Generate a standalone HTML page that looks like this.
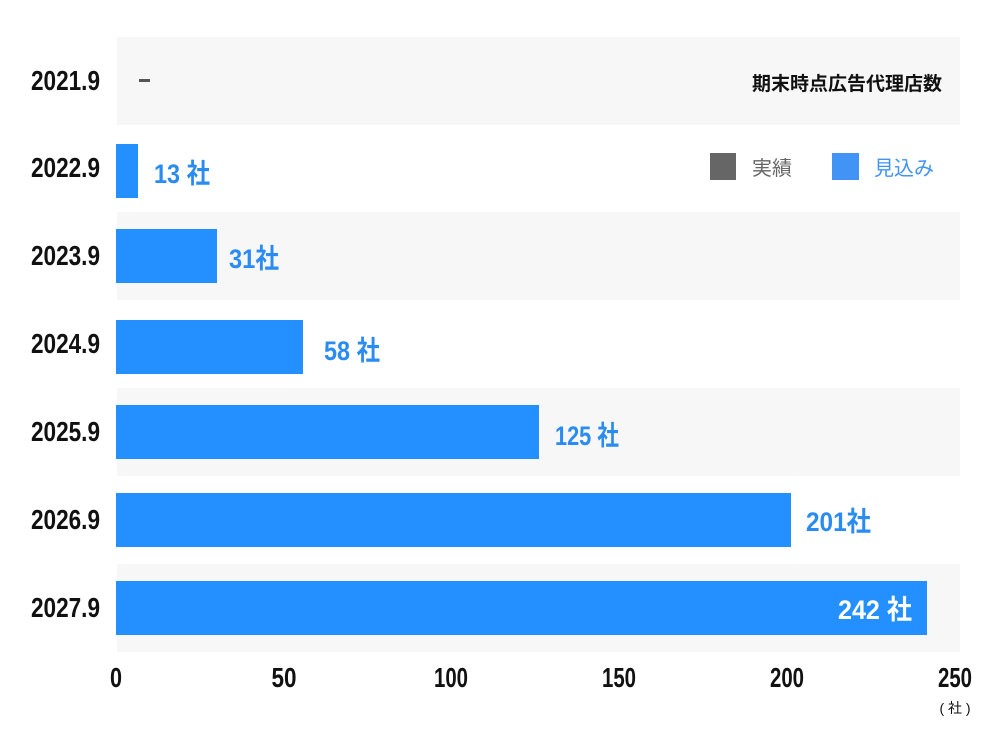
<!DOCTYPE html>
<html><head><meta charset="utf-8"><style>
html,body{margin:0;padding:0;background:#fff;}
svg{display:block;}
.y{font-family:"Liberation Sans Narrow","Liberation Sans",sans-serif;font-weight:bold;font-size:28px;fill:#111;}
.v{font-family:"Liberation Sans Narrow","Liberation Sans","Noto Sans CJK JP",sans-serif;font-weight:bold;font-size:27px;fill:#2a8cf2;}
.x{font-family:"Liberation Sans Narrow","Liberation Sans",sans-serif;font-weight:bold;font-size:28px;fill:#111;}
.j{font-family:"Liberation Sans","Noto Sans CJK JP",sans-serif;}
</style></head><body>
<svg width="1000" height="739" viewBox="0 0 1000 739" xmlns="http://www.w3.org/2000/svg">
<rect x="117" y="37" width="843" height="88" fill="#f7f7f7"/>
<rect x="117" y="212" width="843" height="88" fill="#f7f7f7"/>
<rect x="117" y="388" width="843" height="88" fill="#f7f7f7"/>
<rect x="117" y="564" width="843" height="88" fill="#f7f7f7"/>
<g fill="#2490ff">
<rect x="116" y="144" width="22" height="54"/>
<rect x="116" y="229" width="101" height="54"/>
<rect x="116" y="320" width="187" height="54"/>
<rect x="116" y="405" width="423" height="54"/>
<rect x="116" y="493" width="675" height="54"/>
<rect x="116" y="581" width="811" height="54"/>
</g>
<g class="y" text-anchor="end">
<text x="100" y="90" textLength="69" lengthAdjust="spacingAndGlyphs">2021.9</text>
<text x="100" y="177" textLength="69" lengthAdjust="spacingAndGlyphs">2022.9</text>
<text x="100" y="265" textLength="69" lengthAdjust="spacingAndGlyphs">2023.9</text>
<text x="100" y="353" textLength="69" lengthAdjust="spacingAndGlyphs">2024.9</text>
<text x="100" y="441" textLength="69" lengthAdjust="spacingAndGlyphs">2025.9</text>
<text x="100" y="529" textLength="69" lengthAdjust="spacingAndGlyphs">2026.9</text>
<text x="100" y="617" textLength="69" lengthAdjust="spacingAndGlyphs">2027.9</text>
</g>
<rect x="139" y="79" width="11" height="3" fill="#555"/>
<g class="v">
<text x="154" y="183" textLength="56" lengthAdjust="spacingAndGlyphs">13 社</text>
<text x="229" y="268" textLength="50" lengthAdjust="spacingAndGlyphs">31社</text>
<text x="324" y="360" textLength="56" lengthAdjust="spacingAndGlyphs">58 社</text>
<text x="555" y="445" textLength="64" lengthAdjust="spacingAndGlyphs">125 社</text>
<text x="806" y="531" textLength="65" lengthAdjust="spacingAndGlyphs">201社</text>
<text x="838" y="619" textLength="74" lengthAdjust="spacingAndGlyphs" fill="#fff">242 社</text>
</g>
<text class="j" x="942" y="90" text-anchor="end" font-size="19" font-weight="bold" fill="#111">期末時点広告代理店数</text>
<rect x="710" y="153" width="26" height="27" fill="#666"/>
<text class="j" x="752" y="175" font-size="20" fill="#666">実績</text>
<rect x="832" y="153" width="27" height="27" fill="#4193f5"/>
<text class="j" x="874" y="175" font-size="20" fill="#4193f5">見込み</text>
<g class="x" text-anchor="middle">
<text x="116" y="687" textLength="12" lengthAdjust="spacingAndGlyphs">0</text>
<text x="284" y="687" textLength="25" lengthAdjust="spacingAndGlyphs">50</text>
<text x="451" y="687" textLength="34" lengthAdjust="spacingAndGlyphs">100</text>
<text x="619" y="687" textLength="34" lengthAdjust="spacingAndGlyphs">150</text>
<text x="787" y="687" textLength="34" lengthAdjust="spacingAndGlyphs">200</text>
<text x="955" y="687" textLength="34" lengthAdjust="spacingAndGlyphs">250</text>
</g>
<text class="j" x="955" y="713" text-anchor="middle" font-size="14" fill="#111">( 社 )</text>
</svg>
</body></html>
